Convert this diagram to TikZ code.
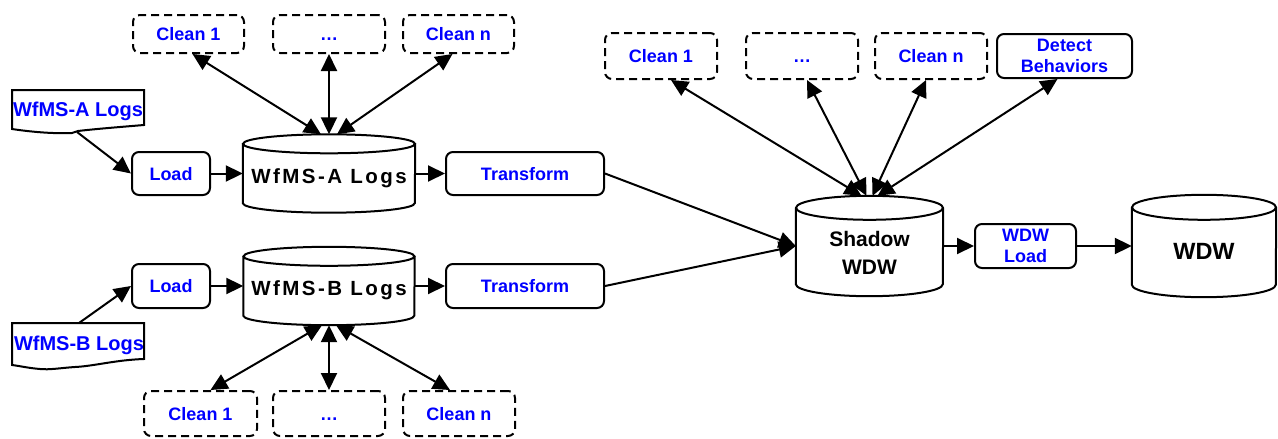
\documentclass[tikz,border=0pt]{standalone}
\usepackage{fontspec}
\setmainfont{Liberation Sans}
\newfontfamily\spacedfont[LetterSpace=12]{Liberation Sans}
\usetikzlibrary{arrows.meta,calc}
\definecolor{txtblue}{RGB}{0,0,255}
\newcommand{\drawcyl}[3]{%
  \draw[cylline] ([yshift=-#3]#1.north west) -- ([yshift=#3]#1.south west)
    arc[start angle=180,end angle=360,x radius=#2,y radius=#3]
    -- ([yshift=-#3]#1.north east)
    ([yshift=-#3]#1.north) ellipse[x radius=#2,y radius=#3];}
\begin{document}
\begin{tikzpicture}[x=1pt,y=-1pt,
  box/.style={draw, line width=2pt, rounded corners=7pt, inner sep=0pt, text=txtblue,
    font=\bfseries\fontsize{18}{21.5}\selectfont, align=center},
  oneline/.style={text height=13pt, text depth=0pt},
  dashbox/.style={box, dash pattern=on 8pt off 5pt},
  cylnode/.style={inner sep=0pt, draw=none},
  cylline/.style={line width=2pt},
  noteline/.style={line width=2pt},
  notetext/.style={text=txtblue, font=\bfseries\fontsize{20}{24}\selectfont, inner sep=0pt, text height=14.4pt, text depth=0pt},
  dbtext/.style={font=\spacedfont\bfseries\fontsize{20.5}{24}\selectfont, inner sep=0pt, text height=14.7pt, text depth=0pt},
  bigtext/.style={font=\bfseries\fontsize{21}{28}\selectfont, inner sep=0pt, align=center},
  wdwtext/.style={font=\bfseries\fontsize{23.5}{28}\selectfont, inner sep=0pt, text height=16.8pt, text depth=0pt},
  tip/.tip={Triangle[length=17pt,width=16pt]},
  conn/.style={line width=2pt, -tip},
  biconn/.style={line width=2pt, tip-tip}]
\useasboundingbox (0,0) rectangle (1278,439);

% top-left cleaning steps
\node[dashbox,oneline,minimum width=111pt,minimum height=38pt] (tc1) at (188.5,34) {Clean 1};
\node[dashbox,oneline,minimum width=112pt,minimum height=38pt] (td) at (329,34) {…};
\node[dashbox,oneline,minimum width=111pt,minimum height=38pt] (tcn) at (458.5,34) {Clean n};

% WfMS-A branch
\draw[noteline] (12,90) -- (144,90) -- (144,125) .. controls (120,127) and (95,129) .. (78,131) -- (72,133) .. controls (50,134) and (25,131) .. (12,129) -- cycle;
\node[notetext] (noteA) at (78,109.5) {WfMS-A Logs};
\coordinate (nAt) at (77,132);
\node[box,oneline,minimum width=78pt,minimum height=43pt] (loadA) at (171,173.5) {Load};
\node[cylnode,minimum width=172pt,minimum height=78pt] (cylA) at (329,173.5) {};
\drawcyl{cylA}{86pt}{9.5pt}
\node[dbtext] (cylAtxt) at (329,176) {WfMS-A Logs};
\node[box,oneline,minimum width=158pt,minimum height=43pt] (transA) at (525,173.5) {Transform};

% WfMS-B branch
\draw[noteline] (12,323) -- (144,323) -- (144,359) .. controls (115,360) and (95,366) .. (75,367) .. controls (60,368) and (50,370) .. (40,369) .. controls (28,368) and (20,366) .. (12,365) -- cycle;
\node[notetext] (noteB) at (79,343) {WfMS-B Logs};
\coordinate (nBt) at (79,323);
\node[box,oneline,minimum width=78pt,minimum height=44pt] (loadB) at (171,286) {Load};
\node[cylnode,minimum width=171pt,minimum height=78pt] (cylB) at (329,286) {};
\drawcyl{cylB}{85.5pt}{9.5pt}
\node[dbtext] (cylBtxt) at (329,288.5) {WfMS-B Logs};
\node[box,oneline,minimum width=158pt,minimum height=44pt] (transB) at (525,286) {Transform};

% bottom cleaning steps
\node[dashbox,oneline,minimum width=113pt,minimum height=45pt] (bc1) at (200.5,413.5) {Clean 1};
\node[dashbox,oneline,minimum width=112pt,minimum height=45pt] (bd) at (329,413.5) {…};
\node[dashbox,oneline,minimum width=112pt,minimum height=45pt] (bcn) at (459,413.5) {Clean n};

% right part
\node[dashbox,oneline,minimum width=112pt,minimum height=46pt] (rc1) at (661,56) {Clean 1};
\node[dashbox,oneline,minimum width=112pt,minimum height=46pt] (rd) at (802,56) {…};
\node[dashbox,oneline,minimum width=112pt,minimum height=46pt] (rcn) at (931,56) {Clean n};
\node[box,minimum width=135pt,minimum height=44pt] (detect) at (1064.5,56) {Detect\\Behaviors};

\node[cylnode,minimum width=147pt,minimum height=100pt] (shadow) at (869.5,246) {};
\drawcyl{shadow}{73.5pt}{12pt}
\node[bigtext] (shadowtxt) at (869.5,252.5) {Shadow\\WDW};
\node[box,minimum width=101pt,minimum height=44pt] (wdwload) at (1025.5,246) {WDW\\Load};
\node[cylnode,minimum width=144pt,minimum height=102pt] (wdw) at (1204,246) {};
\drawcyl{wdw}{72pt}{12.5pt}
\node[wdwtext] (wdwtxt) at (1204,251.5) {WDW};

% connectors
\draw[conn] (nAt) -- (loadA.west);
\draw[conn] (loadA.east) -- (cylA.west);
\draw[conn] (cylA.east) -- (transA.west);
\draw[biconn] ([xshift=4pt]tc1.south) -- ([xshift=-8pt]cylA.north);
\draw[biconn] (td.south) -- (cylA.north);
\draw[biconn] ([xshift=-6pt]tcn.south) -- ([xshift=8pt]cylA.north);

\draw[conn] (nBt) -- (loadB.west);
\draw[conn] (loadB.east) -- (cylB.west);
\draw[conn] (cylB.east) -- (transB.west);
\draw[biconn] ([xshift=10pt]bc1.north) -- ([xshift=-7pt]cylB.south);
\draw[biconn] (bd.north) -- (cylB.south);
\draw[biconn] ([xshift=-9pt]bcn.north) -- ([xshift=7pt]cylB.south);

\draw[conn] (transA.east) -- (shadow.west);
\draw[conn] (transB.east) -- (shadow.west);
\draw[biconn] ([xshift=10pt]rc1.south) -- ([xshift=-8pt]shadow.north);
\draw[biconn] ([xshift=5pt]rd.south) -- ([xshift=-3pt]shadow.north);
\draw[biconn] ([xshift=-5pt]rcn.south) -- ([xshift=3pt]shadow.north);
\draw[biconn] ([xshift=-7pt]detect.south) -- ([xshift=8pt]shadow.north);
\draw[conn] (shadow.east) -- (wdwload.west);
\draw[conn] (wdwload.east) -- (wdw.west);
\end{tikzpicture}
\end{document}
